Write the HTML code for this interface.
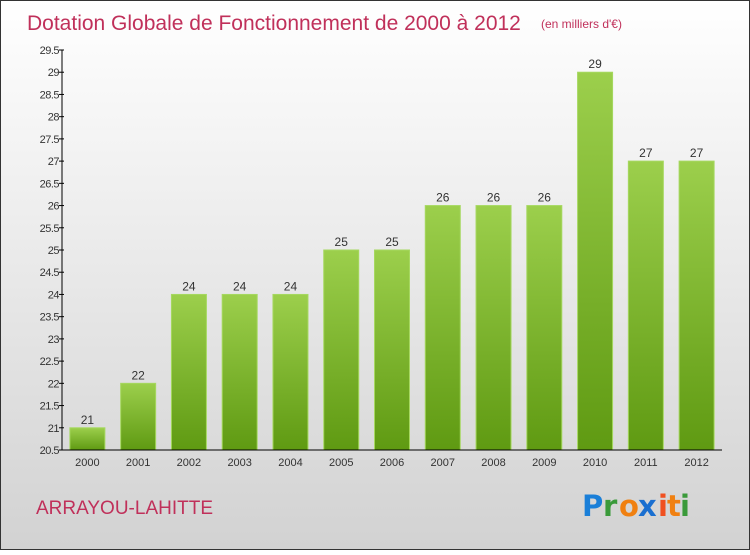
<!DOCTYPE html>
<html><head><meta charset="utf-8"><style>
html,body{margin:0;padding:0}
body{width:750px;height:550px;overflow:hidden;font-family:"Liberation Sans",sans-serif}
</style></head><body>
<svg id="chart" width="750" height="550" xmlns="http://www.w3.org/2000/svg">
<defs>
<linearGradient id="bg" x1="0" y1="0" x2="0" y2="1"><stop offset="0" stop-color="#ffffff"/><stop offset="1" stop-color="#d2d2d2"/></linearGradient>
<linearGradient id="bar" x1="0" y1="0" x2="0" y2="1"><stop offset="0" stop-color="#9ccf4c"/><stop offset="1" stop-color="#5f9a12"/></linearGradient>
</defs>
<rect x="0.5" y="0.5" width="749" height="549" fill="url(#bg)" stroke="#333" stroke-width="1"/>
<text x="27" y="30" font-size="21" fill="#c0305a">Dotation Globale de Fonctionnement de 2000 à 2012</text>
<text x="541" y="28" font-size="12" fill="#c0305a">(en milliers d'€)</text>
<g id="plot"></g>
<text x="36" y="514" font-size="19" fill="#c0305a">ARRAYOU-LAHITTE</text>
<g font-size="29" font-family="'DejaVu Sans',sans-serif" font-weight="bold">
<text x="582" y="516" fill="#1a7fd8">P</text><text x="603" y="516" fill="#3a9a3a">r</text><text x="619" y="516" fill="#f08010">o</text><text x="638" y="516" fill="#1a6fd0">x</text><text x="658" y="516" fill="#f05020">i</text><text x="667" y="516" fill="#f08010">t</text><text x="680" y="516" fill="#3a9a3a">i</text>
</g>
</svg>
<script>
const categories=["2000","2001","2002","2003","2004","2005","2006","2007","2008","2009","2010","2011","2012"];
const values=[21,22,24,24,24,25,25,26,26,26,29,27,27];
const yTicks=[20.5,21,21.5,22,22.5,23,23.5,24,24.5,25,25.5,26,26.5,27,27.5,28,28.5,29,29.5];
const yMin=20.5,yMax=29.5;
const X0=62,X1=722,Y0=450,Y1=50;
const y=v=>Y0-(v-yMin)/(yMax-yMin)*(Y0-Y1);
const step=(X1-X0)/categories.length;
const x=i=>X0+step*(i+0.5);
const ns="http://www.w3.org/2000/svg",g=document.getElementById('plot');
function mk(t,a,txt){const e=document.createElementNS(ns,t);for(const k in a)e.setAttribute(k,a[k]);if(txt!==undefined)e.textContent=txt;g.appendChild(e);return e;}
values.forEach((v,i)=>{
 const r=mk('rect',{x:x(i)-17.5,y:y(v),width:35,height:Y0-y(v),fill:'url(#bar)',stroke:'#a6d860','stroke-width':1});
 
 
 const l=mk('text',{x:x(i),y:y(v)-4,'text-anchor':'middle','font-size':12,fill:'#333'},String(v));
 
 
 const c=mk('text',{x:x(i),y:Y0+16,'text-anchor':'middle','font-size':11,fill:'#333'},categories[i]);
 
 
});
yTicks.forEach(t=>{
 const tk=mk('line',{x1:X0-3,x2:X0+2,y1:y(t),y2:y(t),stroke:'#000'});
 
 
 const tl=mk('text',{x:X0-3,y:y(t)+4,'text-anchor':'end','font-size':11,fill:'#333','letter-spacing':'-0.5'},String(t));
 
 
});
const ya=mk('line',{x1:X0,x2:X0,y1:Y1,y2:Y0,stroke:'#000'});


const xa=mk('line',{x1:X0,x2:X1,y1:Y0,y2:Y0,stroke:'#000'});


</script>
</body></html>
